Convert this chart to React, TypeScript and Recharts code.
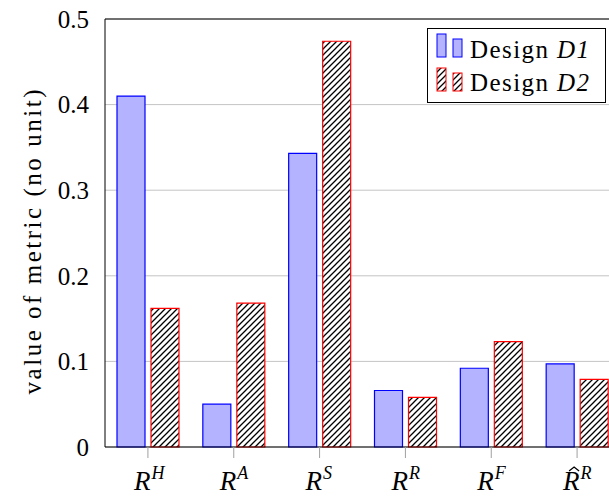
import React from "react";
import { BarChart, Bar, XAxis, YAxis, CartesianGrid } from "recharts";

const categories = ["RH", "RA", "RS", "RR", "RF", "RhatR"];
const labelSup = ["H", "A", "S", "R", "F", "R"];
const labelHat = [false, false, false, false, false, true];

const design1 = [0.41, 0.05, 0.343, 0.066, 0.092, 0.097];
const design2 = [0.162, 0.168, 0.474, 0.058, 0.123, 0.079];

const yTicks = [0, 0.1, 0.2, 0.3, 0.4, 0.5];

const FONT = "Liberation Serif, DejaVu Serif, serif";

const data = categories.map((name, i) => ({
  name,
  d1: design1[i],
  d2: design2[i],
}));

const XTick = (props: any) => {
  const { x, y, payload } = props;
  const i = categories.indexOf(payload.value);
  const left = x - 14;
  return (
    <g>
      <text
        x={left}
        y={y + 30}
        style={{ fontFamily: FONT }}
        fontSize={27}
        fontStyle="italic"
        fill="#000"
      >
        R
        <tspan fontSize={18} dy={-11} dx={1}>
          {labelSup[i]}
        </tspan>
      </text>
      {labelHat[i] && (
        <path
          d={`M${left + 6},${y + 11} L${left + 11},${y + 7} L${left + 16},${y + 11}`}
          fill="none"
          stroke="#000"
          strokeWidth={1.3}
        />
      )}
    </g>
  );
};

const YLabel = () => (
  <text
    transform="translate(41, 242) rotate(-90)"
    textAnchor="middle"
    style={{ fontFamily: FONT }}
    fontSize={25}
    fill="#000"
    textLength={305}
    lengthAdjust="spacing"
  >
    value of metric (no unit)
  </text>
);

const LegendBox = () => (
  <svg
    width={179}
    height={75}
    style={{ position: "absolute", left: 427, top: 28 }}
  >
    <defs>
      <pattern
        id="hatchLegend"
        patternUnits="userSpaceOnUse"
        width={6}
        height={6}
      >
        <rect width={6} height={6} fill="#fff" />
        <path d="M-1,1 l2,-2 M0,6 l6,-6 M5,7 l2,-2" stroke="#000" strokeWidth={1.3} />
      </pattern>
    </defs>
    <rect x={0.5} y={0.5} width={178} height={74} fill="#fff" stroke="#000" />
    {/* Design D1 */}
    <rect x={10} y={6} width={9} height={23} fill="#b3b3ff" stroke="#0000ff" />
    <rect x={26} y={11} width={9} height={18} fill="#b3b3ff" stroke="#0000ff" />
    <text x={43} y={30} style={{ fontFamily: FONT }} fontSize={25} fill="#000" textLength={119} lengthAdjust="spacing">
      Design <tspan fontStyle="italic">D1</tspan>
    </text>
    {/* Design D2 */}
    <rect x={10} y={40} width={9} height={23} fill="url(#hatchLegend)" stroke="#ff0000" />
    <rect x={26} y={45} width={9} height={18} fill="url(#hatchLegend)" stroke="#ff0000" />
    <text x={43} y={63} style={{ fontFamily: FONT }} fontSize={25} fill="#000" textLength={119} lengthAdjust="spacing">
      Design <tspan fontStyle="italic">D2</tspan>
    </text>
  </svg>
);

export default function App() {
  return (
    <div
      style={{
        position: "absolute",
        left: 0,
        top: 0,
        width: 609,
        height: 496,
        overflow: "hidden",
        background: "#fff",
      }}
    >
      <BarChart
        width={620}
        height={496}
        data={data}
        margin={{ top: 0, right: 0, bottom: 0, left: 0 }}
        barSize={28}
        barGap={6}
      >
        <defs>
          <pattern id="hatch" patternUnits="userSpaceOnUse" width={6} height={6}>
            <rect width={6} height={6} fill="#fff" />
            <path d="M-1,1 l2,-2 M0,6 l6,-6 M5,7 l2,-2" stroke="#000" strokeWidth={1.3} />
          </pattern>
        </defs>
        <CartesianGrid xAxisId="bottom" vertical={false} stroke="#c4c4c4" />
        <XAxis
          xAxisId="bottom"
          dataKey="name"
          height={49}
          interval={0}
          tickSize={11}
          tickLine={{ stroke: "#a0a0a0" }}
          axisLine={{ stroke: "#000" }}
          tick={<XTick />}
        />
        <XAxis
          xAxisId="top"
          orientation="top"
          dataKey="name"
          height={19}
          interval={0}
          tickSize={11}
          tickLine={{ stroke: "#a0a0a0" }}
          axisLine={{ stroke: "#000" }}
          tick={false}
        />
        <YAxis
          width={105}
          domain={[0, 0.5]}
          ticks={yTicks}
          tickFormatter={(v: number) => (v === 0 ? "0" : String(v))}
          tickLine={false}
          tickSize={6}
          tickMargin={10}
          axisLine={{ stroke: "#000" }}
          tick={{ fontFamily: FONT, fontSize: 25, fill: "#000" }}
          label={{ content: () => <YLabel /> }}
        />
        <Bar
          xAxisId="bottom"
          dataKey="d1"
          fill="#b3b3ff"
          stroke="#0000ff"
          strokeWidth={1.2}
          isAnimationActive={false}
        />
        <Bar
          xAxisId="bottom"
          dataKey="d2"
          fill="url(#hatch)"
          stroke="#ff0000"
          strokeWidth={1.2}
          isAnimationActive={false}
        />
      </BarChart>
      <LegendBox />
    </div>
  );
}
